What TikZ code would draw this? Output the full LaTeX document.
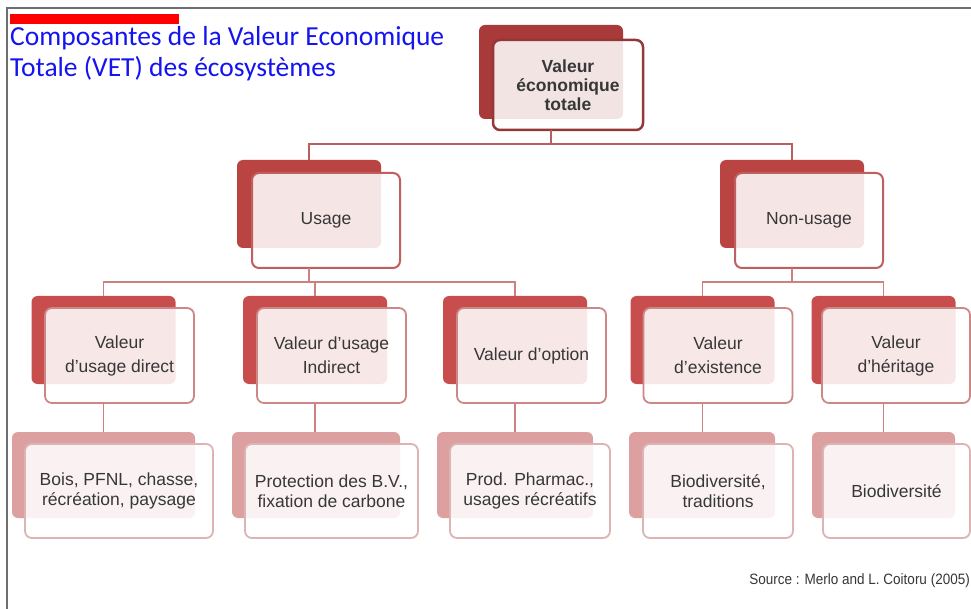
\documentclass[tikz,border=0pt]{standalone}
\usepackage{fontspec}
\usepackage{graphicx}
\setmainfont{Liberation Sans}
\newfontfamily\titlefont{Carlito}
\definecolor{backA}{RGB}{168,58,58}
\definecolor{backB}{RGB}{185,68,66}
\definecolor{backC}{RGB}{200,78,78}
\definecolor{backD}{RGB}{220,160,160}
\definecolor{fbA}{RGB}{150,55,55}
\definecolor{fbB}{RGB}{192,95,95}
\definecolor{fbC}{RGB}{205,135,135}
\definecolor{fbD}{RGB}{220,180,180}
\definecolor{lnk}{RGB}{205,128,128}
\definecolor{lnkA}{RGB}{185,95,95}
\definecolor{txt}{RGB}{55,55,55}
\definecolor{framec}{RGB}{110,110,110}
\definecolor{titleblue}{RGB}{20,20,240}
\tikzset{
  bk/.style={rounded corners=6pt, inner sep=0pt, outer sep=0pt, draw=none},
  fr/.style={rounded corners=7pt, inner sep=0pt, outer sep=0pt, fill=white, fill opacity=0.865, text opacity=1, align=center, text=txt},
  bkA/.style={bk, fill=backA, minimum width=144pt, minimum height=94pt},
  frA/.style={fr, draw=fbA, line width=2.5pt, minimum width=150pt, minimum height=90pt, font=\bfseries\fontsize{17.5}{19}\selectfont},
  bkB/.style={bk, fill=backB, minimum width=144pt, minimum height=88pt},
  frB/.style={fr, draw=fbB, line width=2pt, minimum width=148pt, minimum height=95pt, font=\fontsize{17.5}{21}\selectfont},
  bkC/.style={bk, fill=backC, minimum width=144pt, minimum height=88pt},
  frC/.style={fr, draw=fbC, line width=1.8pt, minimum width=149pt, minimum height=95pt, font=\fontsize{17.5}{24}\selectfont},
  bkD/.style={bk, fill=backD, minimum height=86pt},
  frD/.style={fr, draw=fbD, line width=1.8pt, minimum height=94pt, font=\fontsize{17.5}{20}\selectfont},
  link/.style={draw=lnk, line width=1.8pt},
  linkA/.style={draw=lnkA, line width=2pt},
}
\begin{document}
\begin{tikzpicture}[x=1pt,y=-1pt]
\useasboundingbox (0,0) rectangle (971,609);
\fill[white] (0,0) rectangle (971,609);
\draw[framec, line width=1.5pt] (7,615) -- (7,8) -- (980,8);
\fill[red] (10,14) rectangle (179,24);
\node[anchor=base west, inner sep=0pt, align=left, text=titleblue, font=\titlefont\fontsize{27.5}{31}\selectfont] (title) at (10,77) {Composantes de la Valeur Economique\\Totale (VET) des écosystèmes};

% level 1
\node[bkA] (topb) at (551,72) {};
\node[frA] (top) at (568,85) {Valeur\\économique\\totale};
% level 2
\node[bkB] (usageb) at (309,204) {};
\node[frB] (usage) at (326,220.5) {Usage};
\node[bkB] (nonb) at (792,204) {};
\node[frB] (non) at (809,220.5) {Non-usage};
% level 3
\node[bkC] (directb) at (103.5,340) {};
\node[frC] (direct) at (119.5,355.5) {Valeur\\d'usage direct};
\node[bkC] (indirb) at (315,340) {};
\node[frC] (indir) at (331.5,355.5) {Valeur d'usage\\Indirect};
\node[bkC] (optb) at (515,340) {};
\node[frC] (opt) at (531.5,355.5) {Valeur d'option};
\node[bkC] (existb) at (702.5,340) {};
\node[frC] (exist) at (718,355.5) {Valeur\\d'existence};
\node[bkC] (heritb) at (883.5,340) {};
\node[frC, minimum width=148pt] (herit) at (896,355.5) {Valeur\\d'héritage};
% level 4
\node[bkD, minimum width=183pt] (boisb) at (103.5,475) {};
\node[frD, minimum width=188pt] (bois) at (119,491) {Bois, PFNL, chasse,\\récréation, paysage};
\node[bkD, minimum width=168pt] (protb) at (316,475) {};
\node[frD, minimum width=173pt] (prot) at (331.5,491) {Protection des B.V.,\\fixation de carbone};
\node[bkD, minimum width=156pt] (prodb) at (515,475) {};
\node[frD, minimum width=160pt] (prod) at (530,491) {Prod. Pharmac.,\\usages récréatifs};
\node[bkD, minimum width=146pt] (tradb) at (702,475) {};
\node[frD, minimum width=150pt] (trad) at (718,491) {Biodiversité,\\traditions};
\node[bkD, minimum width=143pt] (biob) at (883.5,475) {};
\node[frD, minimum width=147pt] (bio) at (896.5,491) {Biodiversité};

% connectors
\coordinate (j1) at (551,144);
\draw[linkA] (top.south -| topb.center) -- (j1);
\draw[linkA] (usageb.north) |- (j1) -| (nonb.north);
\coordinate (j2) at (309,282);
\draw[link] (usage.south -| usageb.center) -- (j2);
\draw[link] (directb.north) |- (j2) -| (optb.north);
\draw[link] (indirb.north) -- (indirb.north |- j2);
\coordinate (j3) at (792,282);
\draw[link] (non.south -| nonb.center) -- (j3);
\draw[link] (existb.north) |- (j3) -| (heritb.north);
\draw[link] (direct.south -| directb.center) -- (boisb.north -| directb.center);
\draw[link] (indir.south -| indirb.center) -- (protb.north -| indirb.center);
\draw[link] (opt.south -| optb.center) -- (prodb.north -| optb.center);
\draw[link] (exist.south -| existb.center) -- (tradb.north -| existb.center);
\draw[link] (herit.south -| heritb.center) -- (biob.north -| heritb.center);

\node[anchor=base east, inner sep=0pt, text=txt, font=\fontsize{15}{18}\selectfont] (src) at (970,584) {\scalebox{0.9}[1]{Source : Merlo and L. Coitoru (2005)}};
\end{tikzpicture}
\end{document}
